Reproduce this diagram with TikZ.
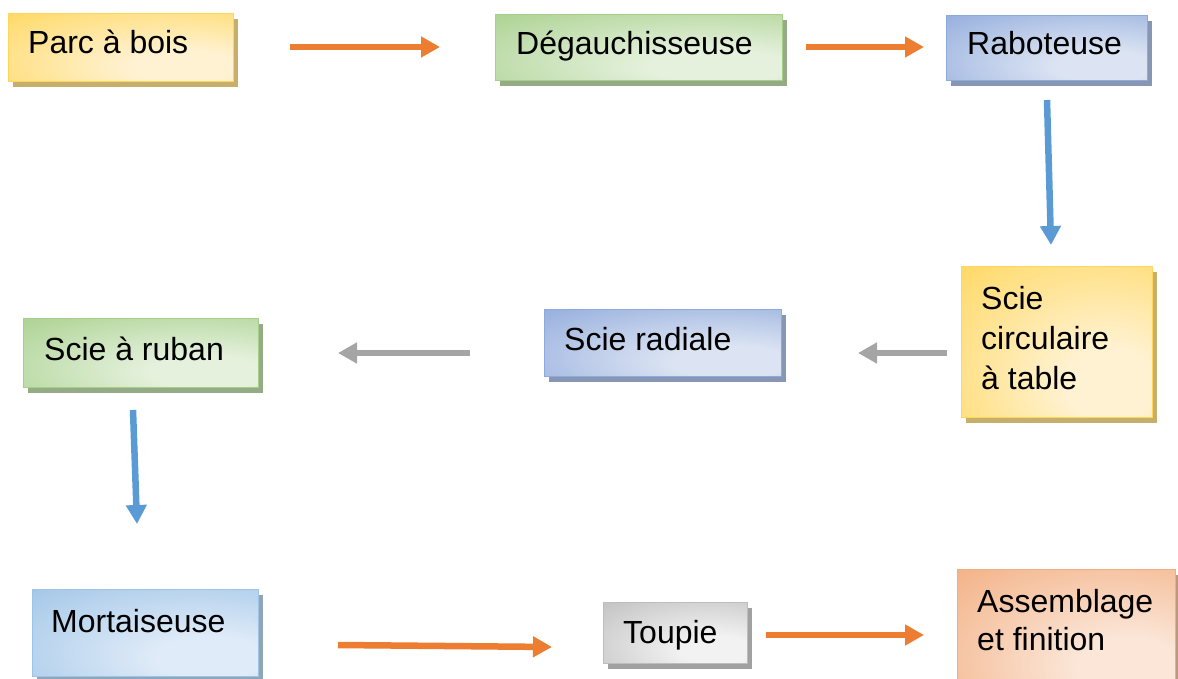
\documentclass[tikz,border=0pt]{standalone}
\usepackage{fontspec}
\setmainfont{Liberation Sans}
\usetikzlibrary{arrows.meta,shadows}
\definecolor{ydark}{HTML}{FFD659}
\definecolor{ylight}{HTML}{FFF2D2}
\definecolor{gdark}{HTML}{A6CF8A}
\definecolor{glight}{HTML}{E5F1DD}
\definecolor{bdark}{HTML}{8EA9DB}
\definecolor{blight}{HTML}{DCE4F3}
\definecolor{lbdark}{HTML}{9DC3E6}
\definecolor{lblight}{HTML}{DFEBF8}
\definecolor{kdark}{HTML}{BDBDBD}
\definecolor{klight}{HTML}{F2F2F2}
\definecolor{odark}{HTML}{F2AC7D}
\definecolor{olight}{HTML}{FBE6D8}
\definecolor{aorange}{HTML}{ED7D31}
\definecolor{ablue}{HTML}{5B9BD5}
\definecolor{agray}{HTML}{A5A5A5}
\pgfdeclareradialshading{shy}{\pgfpoint{16bp}{-16bp}}{color(0bp)=(ylight); color(12bp)=(ylight); color(52bp)=(ydark); color(100bp)=(ydark)}
\pgfdeclareradialshading{shg}{\pgfpoint{16bp}{-16bp}}{color(0bp)=(glight); color(12bp)=(glight); color(52bp)=(gdark); color(100bp)=(gdark)}
\pgfdeclareradialshading{shb}{\pgfpoint{16bp}{-16bp}}{color(0bp)=(blight); color(12bp)=(blight); color(52bp)=(bdark); color(100bp)=(bdark)}
\pgfdeclareradialshading{shlb}{\pgfpoint{16bp}{-16bp}}{color(0bp)=(lblight); color(12bp)=(lblight); color(52bp)=(lbdark); color(100bp)=(lbdark)}
\pgfdeclareradialshading{shk}{\pgfpoint{16bp}{-16bp}}{color(0bp)=(klight); color(12bp)=(klight); color(52bp)=(kdark); color(100bp)=(kdark)}
\pgfdeclareradialshading{sho}{\pgfpoint{16bp}{-16bp}}{color(0bp)=(olight); color(12bp)=(olight); color(52bp)=(odark); color(100bp)=(odark)}
\tikzset{
  boxbase/.style={rectangle, anchor=north west, inner sep=0pt, line width=1.3pt},
  colbox/.style={boxbase, draw=#1dark, shade, shading=sh#1,
    drop shadow={shadow xshift=4pt, shadow yshift=-5pt, fill=#1dark!55!gray, opacity=1}},
  txt/.style={anchor=base west, inner sep=0pt, font=\fontsize{32}{37}\selectfont},
  arr/.style={line width=6.5pt, -{Triangle[width=20pt,length=19pt]}},
}
\begin{document}
\begin{tikzpicture}[x=1pt,y=-1pt]
\useasboundingbox (0,0) rectangle (1178,679);
% boxes
\node[colbox=y, minimum width=225pt, minimum height=68pt] (parc) at (8,13) {};
\node[colbox=g, minimum width=287pt, minimum height=66pt] (deg) at (495,14) {};
\node[colbox=b, minimum width=201pt, minimum height=65pt] (rab) at (946,15) {};
\node[colbox=y, minimum width=191pt, minimum height=151pt] (circ) at (961,266) {};
\node[colbox=b, minimum width=237pt, minimum height=67pt] (rad) at (544,309) {};
\node[colbox=g, minimum width=235pt, minimum height=69pt] (ruban) at (23,318) {};
\node[colbox=lb, minimum width=226pt, minimum height=87pt] (mort) at (32,589) {};
\node[colbox=k, minimum width=144pt, minimum height=61pt] (toupie) at (603,602) {};
\node[colbox=o, minimum width=218pt, minimum height=125pt] (assem) at (957,569) {};
% texts
\node[txt] (parct) at (28,54) {Parc à bois};
\node[txt] (degt) at (516,55) {Dégauchisseuse};
\node[txt] (rabt) at (967,55) {Raboteuse};
\node[txt] (circt1) at (981,309) {Scie};
\node[txt] (circt2) at (981,349) {circulaire};
\node[txt] (circt3) at (981,389) {à table};
\node[txt] (radt) at (564,350) {Scie radiale};
\node[txt] (rubant) at (44,360) {Scie à ruban};
\node[txt] (mortt) at (51,632) {Mortaiseuse};
\node[txt] (toupiet) at (623,643) {Toupie};
\node[txt] (assemt1) at (977,612) {Assemblage};
\node[txt] (assemt2) at (977,650) {et finition};
% arrow ends
\coordinate (a1s) at (290,47);  \coordinate (a1e) at (440,47);
\coordinate (a2s) at (806,47);  \coordinate (a2e) at (924,47);
\coordinate (a3s) at (1047,100); \coordinate (a3e) at (1051,245);
\coordinate (a4s) at (947,353); \coordinate (a4e) at (858,353);
\coordinate (a5s) at (470,353); \coordinate (a5e) at (338,353);
\coordinate (a6s) at (133,410); \coordinate (a6e) at (137,524);
\coordinate (a7s) at (338,645); \coordinate (a7e) at (552,647);
\coordinate (a8s) at (766,635); \coordinate (a8e) at (924,635);
% arrows
\draw[arr, aorange] (a1s) -- (a1e);
\draw[arr, aorange] (a2s) -- (a2e);
\draw[arr, ablue] (a3s) -- (a3e);
\draw[arr, agray] (a4s) -- (a4e);
\draw[arr, agray] (a5s) -- (a5e);
\draw[arr, ablue] (a6s) -- (a6e);
\draw[arr, aorange] (a7s) -- (a7e);
\draw[arr, aorange] (a8s) -- (a8e);
\end{tikzpicture}
\end{document}
